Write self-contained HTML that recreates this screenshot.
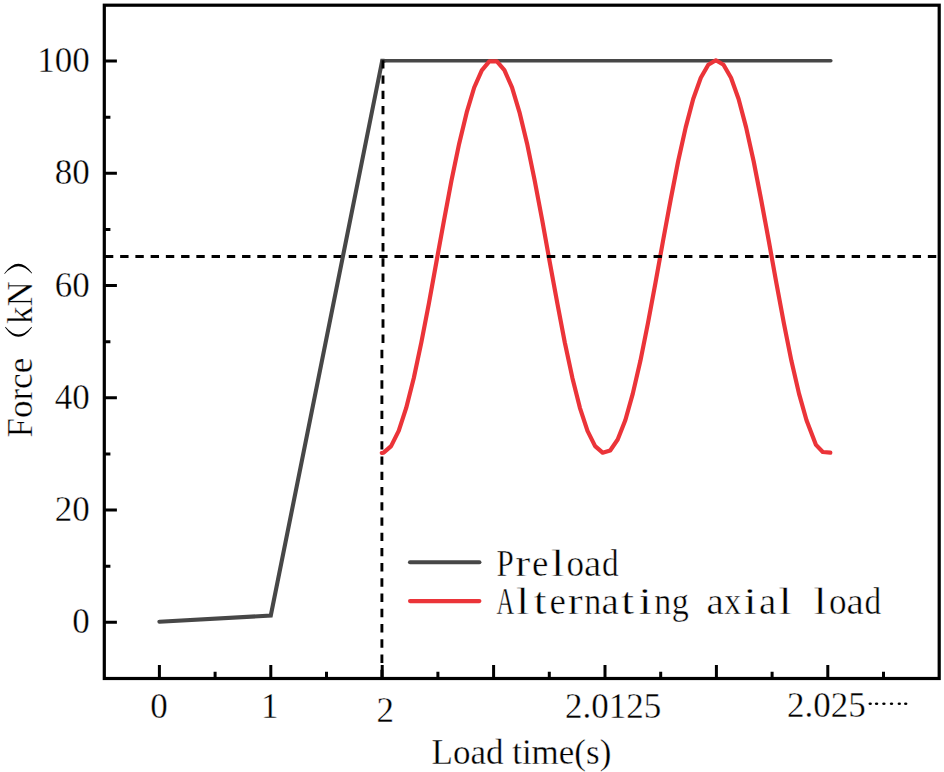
<!DOCTYPE html>
<html><head><meta charset="utf-8"><style>
html,body{margin:0;padding:0;background:#fff;}
svg{display:block;}
.t{font-family:"Liberation Serif",serif;font-size:35px;fill:#000;stroke:#fff;stroke-width:0.35px;}
.ls{font-family:"Liberation Serif",serif;font-size:37px;fill:#000;stroke:#fff;stroke-width:0.45px;}
</style></head><body>
<svg width="944" height="772" viewBox="0 0 944 772">
<rect x="0" y="0" width="944" height="772" fill="#fff"/>
<!-- preload horizontal part -->
<path d="M382.2 60.7 H830.8" stroke="#474747" stroke-width="3.6" fill="none" stroke-linecap="round"/>
<!-- sine -->
<polyline points="381.8,453.0 383.6,452.7 391.1,446.1 398.7,430.9 406.2,407.9 413.8,378.0 421.3,342.6 428.9,303.3 436.4,262.0 444.0,220.4 451.5,180.4 459.1,143.9 466.7,112.4 474.2,87.5 481.8,70.3 489.3,61.4 496.9,61.4 504.4,70.2 512.0,87.4 519.5,112.3 527.1,143.7 534.6,180.2 542.2,220.2 549.7,261.8 557.3,303.2 564.8,342.5 572.4,377.9 579.9,407.8 587.5,430.9 595.1,446.1 602.6,452.7 610.2,450.5 617.7,439.5 625.3,420.3 632.8,393.6 640.4,360.8 647.9,323.3 655.5,282.7 663.0,241.0 670.6,200.0 678.1,161.5 685.7,127.4 693.2,99.0 700.8,77.8 708.3,64.7 715.9,60.3 723.5,64.7 731.0,77.8 738.6,99.0 746.1,127.4 753.7,161.5 761.2,200.0 768.8,241.0 776.3,282.7 783.9,323.3 791.4,360.8 799.0,393.6 806.5,420.3 816.0,444.9 822.8,452.0 830.3,452.7" stroke="#EB3439" stroke-width="4.2" fill="none" stroke-linejoin="round" stroke-linecap="round"/>
<!-- horizontal dashed line -->
<path d="M104.9 256.6 H938" stroke="#000" stroke-width="3" stroke-dasharray="8.4 6.84" fill="none"/>
<!-- preload rising part -->
<polyline points="159.4,621.7 270.8,615.5 382.2,60.7 384.2,60.7" stroke="#474747" stroke-width="4.1" fill="none" stroke-linejoin="miter" stroke-linecap="round"/>
<!-- vertical dashed -->
<path d="M383.0 60.2 V349.76" stroke="#000" stroke-width="2.9" stroke-dasharray="8.4 6.84" fill="none"/>
<path d="M381.9 349.76 V678" stroke="#000" stroke-width="2.9" stroke-dasharray="8.4 6.84" fill="none"/>
<!-- ticks -->
<path d="M159.4 678.5 V664.9 M215.1 678.5 V671.7 M270.8 678.5 V664.9 M326.5 678.5 V671.7 M382.2 678.5 V664.9 M437.9 678.5 V671.7 M493.6 678.5 V664.9 M549.3 678.5 V671.7 M605.0 678.5 V664.9 M660.7 678.5 V671.7 M716.4 678.5 V664.9 M772.1 678.5 V671.7 M827.8 678.5 V664.9 M883.5 678.5 V671.7 M104.3 622.3 H116.9 M104.3 566.2 H110.4 M104.3 510.1 H116.9 M104.3 453.9 H110.4 M104.3 397.8 H116.9 M104.3 341.7 H110.4 M104.3 285.6 H116.9 M104.3 229.5 H110.4 M104.3 173.3 H116.9 M104.3 117.2 H110.4 M104.3 61.1 H116.9" stroke="#000" stroke-width="3" fill="none"/>
<!-- frame -->
<rect x="104.3" y="5.2" width="834.9" height="673.3" stroke="#000" stroke-width="3.2" fill="none"/>
<!-- y labels -->
<g class="t" text-anchor="end">
<text x="89.8" y="72.3">100</text>
<text x="89.8" y="184.45">80</text>
<text x="89.8" y="296.6">60</text>
<text x="89.8" y="408.75">40</text>
<text x="89.8" y="520.9">20</text>
<text x="89.8" y="633.0">0</text>
</g>
<!-- x labels -->
<g class="t" text-anchor="middle">
<text x="159" y="718">0</text>
<text x="269.8" y="718">1</text>
<text x="385.2" y="721.5">2</text>
<text x="613.2" y="717.5">2.0125</text>
</g>
<text class="t" x="787" y="716.5">2.025</text>
<g fill="#000">
<ellipse cx="870.2" cy="703.8" rx="1.7" ry="1.25"/><ellipse cx="876.6" cy="703.8" rx="1.7" ry="1.25"/><ellipse cx="883.9" cy="703.8" rx="1.7" ry="1.25"/>
<ellipse cx="891.5" cy="703.8" rx="1.7" ry="1.25"/><ellipse cx="899.3" cy="703.8" rx="1.7" ry="1.25"/><ellipse cx="905.7" cy="703.8" rx="1.7" ry="1.25"/>
</g>
<text class="t" x="431.5" y="763.5">Load time(s)</text>
<!-- y title -->
<g transform="translate(32,437.5) rotate(-90)">
<text class="t" x="0" y="0">Force</text>
<text class="t" x="113.5" y="0">kN</text>
</g>
<path d="M5.1 327.5 Q18.5 346.2 31.9 327.5 L31.5 326.8 Q18.5 342.4 5.5 326.8 Z" fill="#000"/>
<path d="M4.3 273.4 Q18.2 254.4 32.1 272.9 L31.7 273.5 Q18.2 258.8 4.7 273.9 Z" fill="#000"/>
<!-- legend -->
<path d="M410 562.3 H479.4" stroke="#474747" stroke-width="4.1" stroke-linecap="round"/>
<path d="M410 601.1 H479.4" stroke="#EB3439" stroke-width="4.1" stroke-linecap="round"/>
<text class="ls" text-anchor="middle" transform="translate(505.2,575.5) scale(0.84,1)">P</text>
<text class="ls" text-anchor="middle" transform="translate(522.7,575.5) scale(1.22,1)">r</text>
<text class="ls" text-anchor="middle" transform="translate(540.2,575.5) scale(1.0,1)">e</text>
<text class="ls" text-anchor="middle" transform="translate(557.7,575.5) scale(1.3,1)">l</text>
<text class="ls" text-anchor="middle" transform="translate(575.2,575.5) scale(0.95,1)">o</text>
<text class="ls" text-anchor="middle" transform="translate(592.7,575.5) scale(1.05,1)">a</text>
<text class="ls" text-anchor="middle" transform="translate(610.2,575.5) scale(0.9,1)">d</text>
<text class="ls" text-anchor="middle" transform="translate(505.2,613.5) scale(0.66,1)">A</text>
<text class="ls" text-anchor="middle" transform="translate(522.7,613.5) scale(1.3,1)">l</text>
<text class="ls" text-anchor="middle" transform="translate(540.2,613.5) scale(1.25,1)">t</text>
<text class="ls" text-anchor="middle" transform="translate(557.7,613.5) scale(1.0,1)">e</text>
<text class="ls" text-anchor="middle" transform="translate(575.2,613.5) scale(1.22,1)">r</text>
<text class="ls" text-anchor="middle" transform="translate(592.7,613.5) scale(0.92,1)">n</text>
<text class="ls" text-anchor="middle" transform="translate(610.2,613.5) scale(1.05,1)">a</text>
<text class="ls" text-anchor="middle" transform="translate(627.7,613.5) scale(1.25,1)">t</text>
<text class="ls" text-anchor="middle" transform="translate(645.2,613.5) scale(1.3,1)">i</text>
<text class="ls" text-anchor="middle" transform="translate(662.7,613.5) scale(0.92,1)">n</text>
<text class="ls" text-anchor="middle" transform="translate(680.2,613.5) scale(0.92,1)">g</text>
<text class="ls" text-anchor="middle" transform="translate(715.2,613.5) scale(1.05,1)">a</text>
<text class="ls" text-anchor="middle" transform="translate(732.7,613.5) scale(0.92,1)">x</text>
<text class="ls" text-anchor="middle" transform="translate(750.2,613.5) scale(1.3,1)">i</text>
<text class="ls" text-anchor="middle" transform="translate(767.7,613.5) scale(1.05,1)">a</text>
<text class="ls" text-anchor="middle" transform="translate(785.2,613.5) scale(1.3,1)">l</text>
<text class="ls" text-anchor="middle" transform="translate(820.2,613.5) scale(1.3,1)">l</text>
<text class="ls" text-anchor="middle" transform="translate(837.7,613.5) scale(0.95,1)">o</text>
<text class="ls" text-anchor="middle" transform="translate(855.2,613.5) scale(1.05,1)">a</text>
<text class="ls" text-anchor="middle" transform="translate(872.7,613.5) scale(0.9,1)">d</text>
</svg>
</body></html>
